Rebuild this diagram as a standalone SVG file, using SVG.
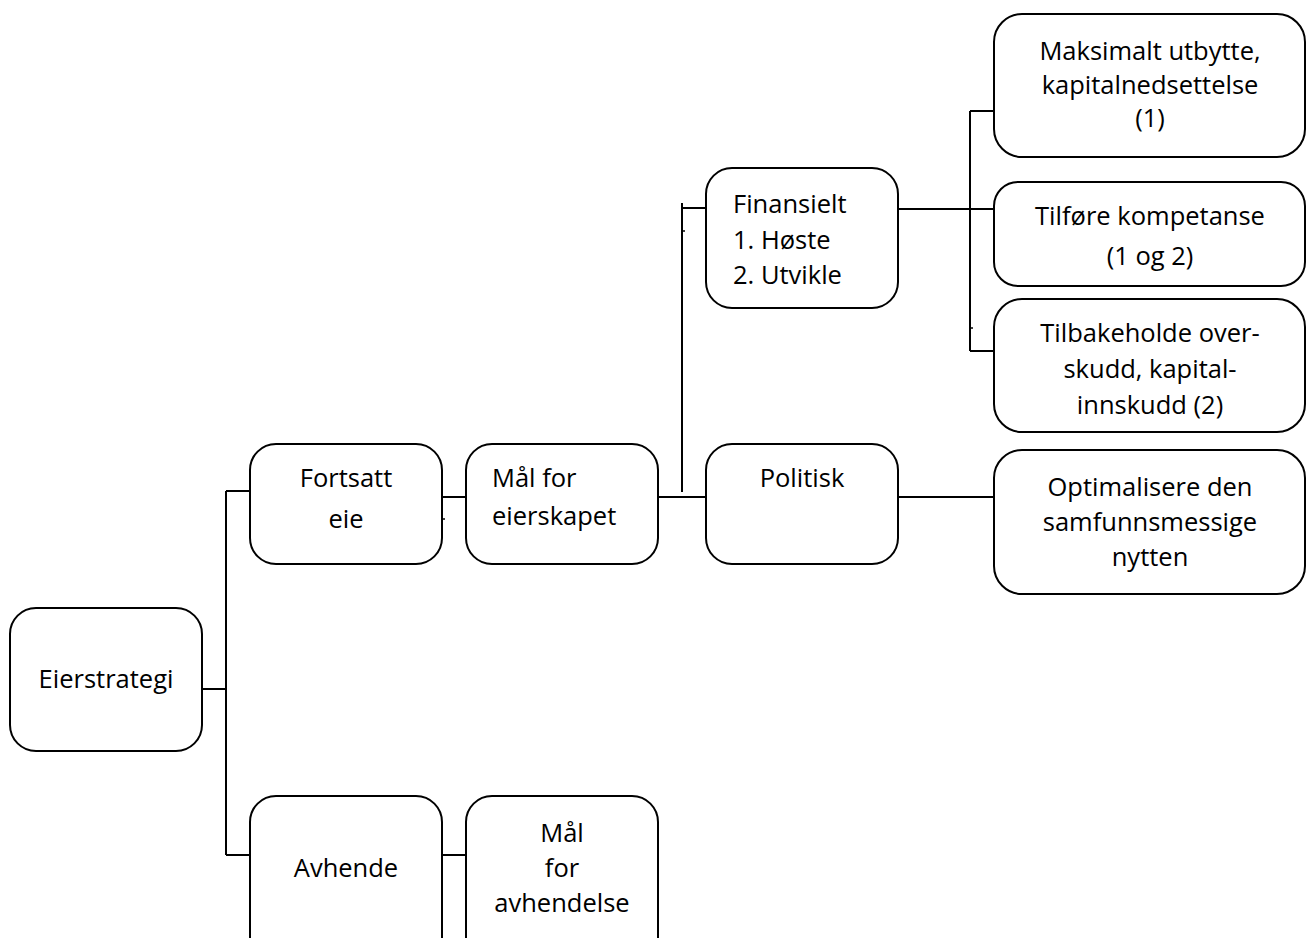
<svg xmlns="http://www.w3.org/2000/svg" width="1306" height="938" viewBox="0 0 1306 938">
<style>
.box{fill:#fff;stroke:#000;stroke-width:2}
.c{fill:none;stroke:#000;stroke-width:2}
.t{fill:none;stroke:#000;stroke-width:1.5}
text{font-family:"Open Sans","Noto Sans","Liberation Sans",sans-serif;font-size:25.5px;fill:#000}
.m{text-anchor:middle}
</style>
<rect width="1306" height="938" fill="#fff"/>
<g id="connectors">
<path class="c" d="M202,689H226M226,491V855M226,491H250M226,855H250"/>
<path class="c" d="M442,497H466M442,855H466"/>
<path class="c" d="M658,497H706M682,492V203M682,208H706"/>
<path class="c" d="M898,209H994M970,111V351M970,111H994M970,351H994"/>
<path class="c" d="M898,497H994"/>
<path class="t" d="M442,519H445M682,231H685M970,328H973"/>
</g>
<g id="eierstrategi"><rect class="box" x="10" y="608" width="192" height="143" rx="26"/><text x="106" y="688" class="m">Eierstrategi</text></g>
<g id="fortsatt"><rect class="box" x="250" y="444" width="192" height="120" rx="26"/><text x="346" y="487" class="m">Fortsatt</text><text x="346" y="528" class="m">eie</text></g>
<g id="maal-eierskap"><rect class="box" x="466" y="444" width="192" height="120" rx="26"/><text x="492" y="487">Mål for</text><text x="492" y="525">eierskapet</text></g>
<g id="finansielt"><rect class="box" x="706" y="168" width="192" height="140" rx="26"/><text x="733" y="213">Finansielt</text><text x="733" y="249">1. Høste</text><text x="733" y="284">2. Utvikle</text></g>
<g id="politisk"><rect class="box" x="706" y="444" width="192" height="120" rx="26"/><text x="802" y="487" class="m">Politisk</text></g>
<g id="maksimalt"><rect class="box" x="994" y="14" width="311" height="143" rx="28"/><text x="1150" y="60" class="m">Maksimalt utbytte,</text><text x="1150" y="94" class="m">kapitalnedsettelse</text><text x="1150" y="127" class="m">(1)</text></g>
<g id="tilfore"><rect class="box" x="994" y="182" width="311" height="104" rx="24"/><text x="1150" y="225" class="m">Tilføre kompetanse</text><text x="1150" y="265" class="m">(1 og 2)</text></g>
<g id="tilbakeholde"><rect class="box" x="994" y="299" width="311" height="133" rx="28"/><text x="1150" y="342" class="m">Tilbakeholde over-</text><text x="1150" y="378" class="m">skudd, kapital-</text><text x="1150" y="414" class="m">innskudd (2)</text></g>
<g id="optimalisere"><rect class="box" x="994" y="450" width="311" height="144" rx="28"/><text x="1150" y="496" class="m">Optimalisere den</text><text x="1150" y="531" class="m">samfunnsmessige</text><text x="1150" y="566" class="m">nytten</text></g>
<g id="avhende"><rect class="box" x="250" y="796" width="192" height="170" rx="26"/><text x="346" y="877" class="m">Avhende</text></g>
<g id="maal-avhendelse"><rect class="box" x="466" y="796" width="192" height="170" rx="26"/><text x="562" y="842" class="m">Mål</text><text x="562" y="877" class="m">for</text><text x="562" y="912" class="m">avhendelse</text></g>
</svg>
